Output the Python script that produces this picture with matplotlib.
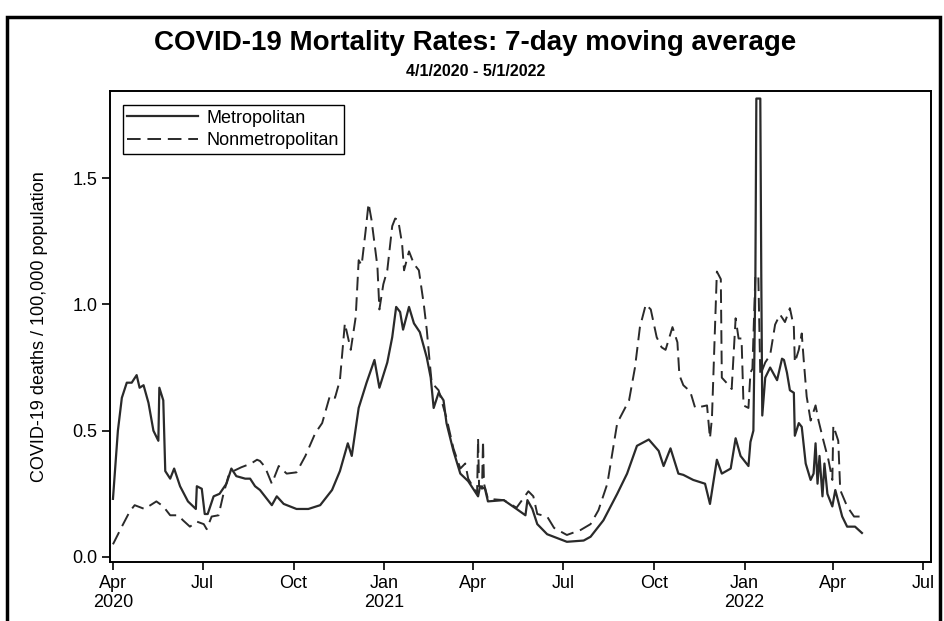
import numpy as np
import matplotlib
matplotlib.use("Agg")
import matplotlib.pyplot as plt
from matplotlib.patches import Rectangle

plt.rcParams['font.family'] = ['Liberation Sans', 'DejaVu Sans']
NARROW = ['Liberation Sans Narrow', 'Liberation Sans', 'DejaVu Sans']

# days are counted from 4/1/2020, rates are deaths per 100,000 (7-day avg)
START = np.datetime64('2020-04-01')

metro_day = [0, 5, 9, 14, 19, 24, 27, 31, 36, 41,
             46, 47, 51, 53, 58, 62, 68, 76, 84, 85,
             90, 93, 96, 102, 108, 115, 120, 125, 134, 139,
             144, 149, 152, 161, 166, 173, 186, 198, 210, 222,
             230, 238, 242, 249, 257, 265, 270, 278, 283, 287,
             291, 294, 300, 305, 311, 318, 322, 325, 330, 335,
             338, 345, 352, 360, 370, 372, 377, 380, 396, 409,
             418, 420, 425, 430, 440, 460, 477, 484, 497, 511,
             521, 531, 543, 553, 558, 565, 573, 578, 588, 600,
             605, 612, 617, 626, 631, 636, 644, 646, 649, 651,
             652, 656, 657, 658, 661, 666, 673, 678, 680, 683,
             686, 690, 691, 695, 698, 702, 707, 710, 712, 714,
             716, 719, 721, 724, 729, 732, 739, 744, 752, 759]
metro_rate = [0.23, 0.50, 0.63, 0.69, 0.69, 0.72, 0.67, 0.68, 0.61, 0.50,
              0.46, 0.67, 0.62, 0.34, 0.31, 0.35, 0.28, 0.22, 0.19, 0.28,
              0.27, 0.17, 0.17, 0.24, 0.25, 0.29, 0.35, 0.32, 0.31, 0.31,
              0.28, 0.265, 0.25, 0.205, 0.24, 0.21, 0.19, 0.19, 0.205, 0.265,
              0.34, 0.45, 0.40, 0.59, 0.69, 0.78, 0.67, 0.77, 0.87, 0.99,
              0.97, 0.90, 0.99, 0.925, 0.89, 0.79, 0.71, 0.59, 0.65, 0.62,
              0.53, 0.42, 0.33, 0.30, 0.24, 0.28, 0.27, 0.22, 0.225, 0.19,
              0.165, 0.225, 0.19, 0.13, 0.09, 0.06, 0.065, 0.08, 0.145, 0.25,
              0.33, 0.44, 0.465, 0.42, 0.36, 0.43, 0.33, 0.325, 0.305, 0.29,
              0.21, 0.385, 0.33, 0.35, 0.47, 0.40, 0.36, 0.455, 0.50, 1.10,
              1.815, 1.815, 1.115, 0.56, 0.71, 0.75, 0.70, 0.785, 0.78, 0.73,
              0.66, 0.65, 0.48, 0.53, 0.515, 0.37, 0.305, 0.33, 0.45, 0.29,
              0.40, 0.24, 0.37, 0.25, 0.20, 0.265, 0.16, 0.12, 0.12, 0.095]

nonmetro_day = [0, 9, 17, 22, 32, 44, 51, 58, 66, 71,
                78, 85, 92, 95, 100, 107, 112, 117, 122, 130,
                140, 146, 149, 154, 161, 168, 176, 186, 195, 205,
                212, 220, 225, 230, 235, 241, 246, 249, 252, 256,
                259, 262, 268, 270, 274, 278, 283, 286, 289, 293,
                295, 300, 305, 310, 315, 318, 321, 323, 330, 338,
                345, 352, 357, 360, 369, 370, 371, 374, 375, 376,
                380, 396, 409, 421, 426, 430, 440, 447, 460, 474,
                484, 492, 501, 511, 523, 529, 534, 540, 545, 551,
                556, 560, 567, 572, 574, 578, 585, 590, 602, 605,
                607, 612, 616, 617, 624, 627, 631, 634, 637, 639,
                644, 646, 648, 651, 654, 656, 661, 666, 671, 676,
                681, 686, 690, 691, 695, 698, 700, 703, 707, 712,
                715, 720, 725, 729, 730, 735, 737, 744, 751, 759]
nonmetro_rate = [0.05, 0.12, 0.18, 0.205, 0.19, 0.22, 0.20, 0.165, 0.165, 0.145,
                 0.12, 0.14, 0.13, 0.11, 0.16, 0.165, 0.25, 0.32, 0.34, 0.355,
                 0.37, 0.385, 0.38, 0.357, 0.29, 0.36, 0.33, 0.335, 0.40, 0.49,
                 0.53, 0.64, 0.63, 0.70, 0.925, 0.82, 0.95, 1.175, 1.155, 1.29,
                 1.40, 1.335, 1.15, 0.98, 1.08, 1.135, 1.31, 1.34, 1.335, 1.24,
                 1.135, 1.21, 1.16, 1.135, 1.00, 0.90, 0.77, 0.69, 0.66, 0.55,
                 0.43, 0.35, 0.37, 0.31, 0.25, 0.47, 0.28, 0.27, 0.46, 0.29,
                 0.23, 0.225, 0.195, 0.26, 0.24, 0.17, 0.16, 0.115, 0.087, 0.107,
                 0.13, 0.185, 0.29, 0.53, 0.62, 0.75, 0.91, 1.00, 0.98, 0.87,
                 0.83, 0.82, 0.91, 0.85, 0.72, 0.68, 0.655, 0.59, 0.60, 0.47,
                 0.55, 1.13, 1.10, 0.71, 0.68, 0.665, 0.945, 0.865, 0.865, 0.60,
                 0.59, 0.73, 0.745, 1.115, 1.115, 0.72, 0.77, 0.80, 0.92, 0.96,
                 0.93, 0.985, 0.91, 0.77, 0.82, 0.885, 0.78, 0.635, 0.54, 0.60,
                 0.54, 0.46, 0.385, 0.305, 0.52, 0.46, 0.265, 0.20, 0.16, 0.16]

tick_dates = ['2020-04-01', '2020-07-01', '2020-10-01', '2021-01-01', '2021-04-01',
              '2021-07-01', '2021-10-01', '2022-01-01', '2022-04-01', '2022-07-01']
tick_labels = ['Apr\n2020', 'Jul', 'Oct', 'Jan\n2021', 'Apr',
               'Jul', 'Oct', 'Jan\n2022', 'Apr', 'Jul']
y_ticks = [0.0, 0.5, 1.0, 1.5]


def to_dates(days):
    return START + np.array(days).astype('timedelta64[D]')


fig = plt.figure(figsize=(9.45, 6.21), dpi=100)
ax = fig.add_axes([0.1164, 0.095, 0.8688, 0.7585])

line_color = '#2a2a2a'
ax.plot(to_dates(metro_day), metro_rate, color=line_color, lw=1.6,
        label='Metropolitan')
ax.plot(to_dates(nonmetro_day), nonmetro_rate, color=line_color, lw=1.4,
        linestyle=(0, (7, 3.5)), label='Nonmetropolitan')

ax.set_xlim(np.datetime64('2020-03-29'), np.datetime64('2022-07-09'))
ax.set_ylim(-0.02, 1.845)

ax.set_xticks(np.array(tick_dates, dtype='datetime64[D]'))
ax.set_xticklabels(tick_labels)
ax.set_yticks(y_ticks)
ax.set_yticklabels([f'{v:.1f}' for v in y_ticks])
ax.tick_params(direction='out', length=6, width=1.2, labelsize=13,
               color='black', pad=3)

for side in ax.spines.values():
    side.set_linewidth(1.4)
    side.set_color('black')

ax.set_ylabel('COVID-19 deaths / 100,000 population', fontsize=13)
ax.yaxis.set_label_coords(-0.0755, 0.5)

leg = ax.legend(loc='upper left', bbox_to_anchor=(0.0158, 0.970),
                borderaxespad=0, fontsize=13, handlelength=3.9,
                handletextpad=0.5, labelspacing=0.3, borderpad=0.25,
                fancybox=False, framealpha=1)
leg.get_frame().set_edgecolor('black')
leg.get_frame().set_linewidth(1.0)

# title block
fig.text(0.503, 1 - 43 / 621, 'COVID-19 Mortality Rates: 7-day moving average',
         ha='center', va='center', fontsize=20, fontweight='bold', family=NARROW)
fig.text(0.503, 1 - 72 / 621, '4/1/2020 - 5/1/2022',
         ha='center', va='center', fontsize=11.5, fontweight='bold', family=NARROW)

# outer frame around the whole figure panel
fig.add_artist(Rectangle((7 / 945, -0.05), 933 / 945, 1 - 17 / 621 + 0.05,
                         transform=fig.transFigure, fill=False,
                         lw=2.5, ec='black'))

fig.savefig('out.png', dpi=100)
